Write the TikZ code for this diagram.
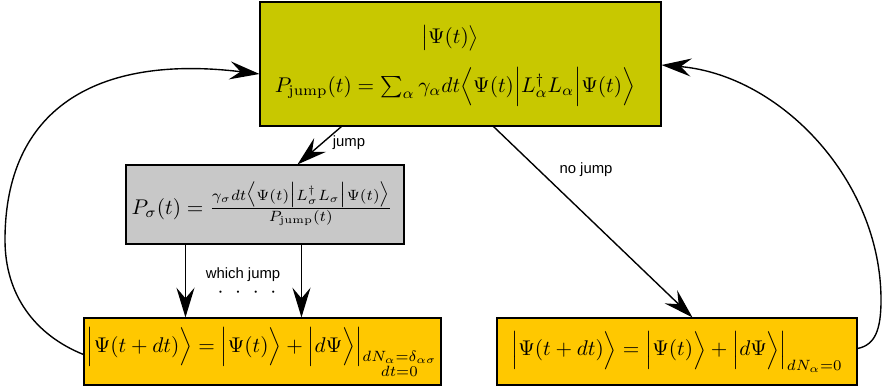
\documentclass[tikz,border=0pt]{standalone}
\usepackage{amsmath}
\usepackage{fontspec}
\newfontfamily\labfont{Liberation Sans}
\usetikzlibrary{arrows.meta}
\def\u{0.47pt}
\definecolor{topc}{RGB}{200,200,0}
\definecolor{grayc}{RGB}{200,200,200}
\definecolor{goldc}{RGB}{255,200,0}
\tikzset{
  box/.style={draw=black, line width=0.5pt, inner sep=0pt},
  arr/.style={line width=0.65pt, -{Stealth[length=14pt,width=8.5pt,inset=5pt]}},
  lab/.style={font=\labfont\scriptsize, inner sep=1pt},
}
\begin{document}
\begin{tikzpicture}[x=\u,y=-\u]
\useasboundingbox (0,0) rectangle (882,391);
\node[box, fill=topc, minimum width={401*\u}, minimum height={124*\u}] (top) at (460.5,64) {};
\node (ket) at (450,38) {$\bigl|\Psi(t)\bigr\rangle$};
\node (pj) at (455,87) {$P_{\mathrm{jump}}(t)=\sum_\alpha\gamma_\alpha dt\Bigl\langle\Psi(t)\Bigl|L^\dagger_\alpha L_\alpha\Bigr|\Psi(t)\Bigr\rangle$};
\node[box, fill=grayc, minimum width={278*\u}, minimum height={79*\u}] (gray) at (265,204.5) {};
\node (ps) at (262,204) {$P_\sigma(t)=\frac{\gamma_\sigma dt\bigl\langle\Psi(t)\bigl|L^\dagger_\sigma L_\sigma\bigr|\Psi(t)\bigr\rangle}{P_{\mathrm{jump}}(t)}$};
\node[box, fill=goldc, minimum width={357*\u}, minimum height={67*\u}] (bl) at (262.5,351.5) {};
\node (ebl) at (262,352) {$\Bigl|\Psi(t+dt)\Bigr\rangle=\Bigl|\Psi(t)\Bigr\rangle+\Bigl|d\Psi\Bigr\rangle\Bigr|_{\substack{dN_\alpha=\delta_{\alpha\sigma}\\ dt=0}}$};
\node[box, fill=goldc, minimum width={360*\u}, minimum height={67*\u}] (br) at (677,351.5) {};
\node (ebr) at (677,352) {$\Bigl|\Psi(t+dt)\Bigr\rangle=\Bigl|\Psi(t)\Bigr\rangle+\Bigl|d\Psi\Bigr\rangle\Bigr|_{dN_\alpha=0}$};
\draw[arr] ([xshift={82*\u}]top.south west) -- ([xshift={172*\u}]gray.north west);
\node[lab] (ljump) at (349,143) {jump};
\draw[arr] ([xshift={60*\u}]gray.south west) -- ([xshift={102*\u}]bl.north west);
\draw[arr] ([xshift={176*\u}]gray.south west) -- ([xshift={218*\u}]bl.north west);
\node[lab] (lwhich) at (243,275) {which jump};
\node (dots) at (247,293) {$\cdot$\hspace{5.5pt}$\cdot$\hspace{5.5pt}$\cdot$\hspace{5.5pt}$\cdot$};
\draw[arr] ([xshift={234*\u}]top.south west) -- ([xshift={196*\u}]br.north west);
\node[lab] (lno) at (586,170) {no jump};
\coordinate (lw) at (5,240);
\coordinate (re) at (881,300);
\draw[arr] ([yshift={-3*\u}]bl.west) .. controls (35,335) and (5,295) .. (lw)
  .. controls (5,110) and (95,54) .. ([yshift={-10*\u}]top.west);
\draw[arr] ([yshift={3*\u}]br.east) .. controls (875,345) and (881,330) .. (re)
  .. controls (881,180) and (780,75) .. ([yshift={-1*\u}]top.east);
\end{tikzpicture}
\end{document}
